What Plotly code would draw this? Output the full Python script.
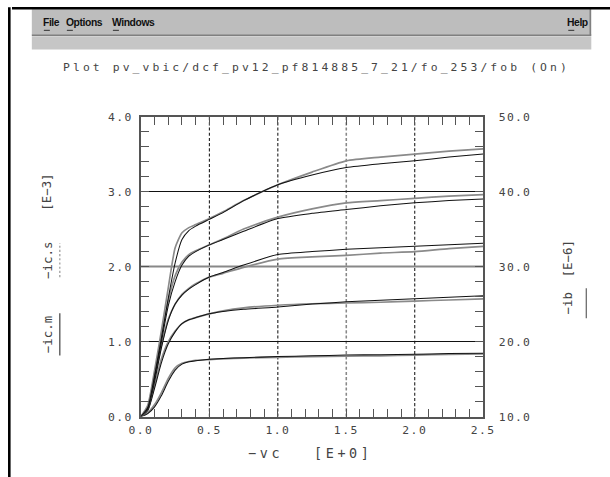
import plotly.graph_objects as go

# ---------------- data ----------------
vc = [0.0, 0.05, 0.1, 0.15, 0.2, 0.25, 0.3, 0.35, 0.4, 0.5, 0.6, 0.75,
      1.0, 1.25, 1.5, 1.75, 2.0, 2.25, 2.5]

ic_m = [
    [0, 0.04, 0.13, 0.28, 0.47, 0.62, 0.70, 0.73, 0.745, 0.765, 0.775, 0.785, 0.80, 0.81, 0.82, 0.825, 0.83, 0.84, 0.845],
    [0, 0.08, 0.38, 0.72, 0.97, 1.13, 1.24, 1.29, 1.32, 1.37, 1.40, 1.43, 1.46, 1.50, 1.53, 1.55, 1.57, 1.59, 1.61],
    [0, 0.10, 0.47, 0.92, 1.28, 1.50, 1.62, 1.70, 1.76, 1.86, 1.92, 2.02, 2.16, 2.20, 2.23, 2.25, 2.27, 2.29, 2.31],
    [0, 0.11, 0.52, 1.00, 1.48, 1.80, 2.02, 2.14, 2.20, 2.29, 2.36, 2.47, 2.64, 2.71, 2.76, 2.81, 2.85, 2.88, 2.90],
    [0, 0.12, 0.55, 1.05, 1.58, 2.05, 2.36, 2.48, 2.54, 2.63, 2.72, 2.88, 3.09, 3.22, 3.32, 3.37, 3.41, 3.46, 3.50],
]
ic_s = [
    [0, 0.05, 0.16, 0.32, 0.51, 0.65, 0.71, 0.735, 0.75, 0.76, 0.77, 0.78, 0.79, 0.80, 0.805, 0.81, 0.82, 0.83, 0.835],
    [0, 0.09, 0.42, 0.77, 1.00, 1.14, 1.24, 1.29, 1.32, 1.37, 1.41, 1.45, 1.485, 1.505, 1.515, 1.525, 1.54, 1.555, 1.57],
    [0, 0.11, 0.50, 0.95, 1.30, 1.50, 1.63, 1.71, 1.77, 1.86, 1.91, 1.99, 2.10, 2.13, 2.15, 2.18, 2.20, 2.24, 2.27],
    [0, 0.13, 0.57, 1.07, 1.55, 1.88, 2.06, 2.16, 2.21, 2.29, 2.37, 2.50, 2.66, 2.77, 2.85, 2.88, 2.91, 2.94, 2.96],
    [0, 0.15, 0.62, 1.15, 1.72, 2.25, 2.45, 2.52, 2.56, 2.64, 2.73, 2.88, 3.09, 3.26, 3.41, 3.46, 3.50, 3.54, 3.57],
]

x_ticks = [0.0, 0.5, 1.0, 1.5, 2.0, 2.5]
x_ticklabels = ["0.0", "0.5", "1.0", "1.5", "2.0", "2.5"]
y_ticks = [0.0, 1.0, 2.0, 3.0, 4.0]
y_ticklabels = ["0.0", "1.0", "2.0", "3.0", "4.0"]
y2_ticks = [10.0, 20.0, 30.0, 40.0, 50.0]
y2_ticklabels = ["10.0", "20.0", "30.0", "40.0", "50.0"]

grid_x_black = [0.5, 1.0, 2.0]
grid_x_gray = [1.5]
grid_y_black = [1.0, 3.0]
grid_y_gray = [2.0]

title_text = "Plot pv_vbic/dcf_pv12_pf814885_7_21/fo_253/fob (On)"
menu_items = [("File", 43), ("Options", 66), ("Windows", 112), ("Help", 567)]

# ---------------- figure ----------------
# layout is specified in target-picture pixels; S compensates the capture scale,
# OFF the default body margin of the page, XC a small horizontal correction
S = 1 / 0.968
OFF = 8
XC = 1.0077
W, H = round(610 * S - OFF), round(477 * S - OFF)
def px(x):
    x = 590 + (x - 590) * XC
    return (x * S - OFF) / W
def py(y):
    return 1 - (y * S - OFF) / H
def k(v):
    return v * S
def sp(text, ls):
    return '<span style="letter-spacing:%.2fpx">%s</span>' % (ls * S, text)

fig = go.Figure()

for m, s in zip(ic_m, ic_s):
    fig.add_trace(go.Scatter(x=vc, y=s, mode="lines", line=dict(color="#8a8a8a", width=k(1.6), shape="spline", smoothing=0.6),
                             hoverinfo="skip", showlegend=False))
    fig.add_trace(go.Scatter(x=vc, y=m, mode="lines", line=dict(color="#111111", width=k(1), shape="spline", smoothing=0.6),
                             hoverinfo="skip", showlegend=False))

fig.add_trace(go.Scatter(x=[None], y=[None], yaxis="y2", mode="lines", hoverinfo="skip", showlegend=False))

tickfont = dict(family="DejaVu Sans Mono", size=k(11), color="#444444")
axcol = "#555555"

fig.update_layout(
    width=W, height=H, autosize=False,
    margin=dict(l=0, r=0, t=0, b=0, pad=0),
    paper_bgcolor="white", plot_bgcolor="white",
    xaxis=dict(domain=[px(141), px(483)], range=[0, 2.5], showgrid=False, zeroline=False,
               showline=True, linecolor=axcol, linewidth=k(1.5), mirror="ticks",
               ticks="inside", ticklen=k(8), tickcolor=axcol, tickwidth=k(1.2),
               tickvals=x_ticks, ticktext=[sp(t, 1.4) for t in x_ticklabels], tickfont=tickfont,
               ticklabelstandoff=round(k(2)),
               minor=dict(dtick=0.1, ticks="inside", ticklen=k(8), tickcolor=axcol, tickwidth=k(1.2), showgrid=False)),
    yaxis=dict(domain=[py(416), py(117)], range=[0, 4.0], showgrid=False, zeroline=False,
               showline=True, linecolor=axcol, linewidth=k(1.5), mirror="ticks",
               ticks="inside", ticklen=k(8), tickcolor=axcol, tickwidth=k(1.2),
               tickvals=y_ticks, ticktext=[sp(t, 1.4) for t in y_ticklabels], tickfont=tickfont,
               ticklabelstandoff=round(k(4)),
               minor=dict(dtick=0.2, ticks="inside", ticklen=k(8), tickcolor=axcol, tickwidth=k(1.2), showgrid=False)),
    yaxis2=dict(overlaying="y", side="right", range=[10, 50], showgrid=False, zeroline=False,
                showline=False, ticks="outside", ticklen=k(12), tickcolor="rgba(0,0,0,0)",
                tickvals=y2_ticks, ticktext=[sp(t, 1.2) for t in y2_ticklabels], tickfont=tickfont),
)

shapes = []
dash = "%.1fpx,%.1fpx" % (k(3), k(2))
for gx in grid_x_black:
    shapes.append(dict(type="line", xref="x", yref="y domain", x0=gx, x1=gx, y0=0, y1=1,
                       line=dict(color="#111111", width=k(1), dash=dash), layer="below"))
for gx in grid_x_gray:
    shapes.append(dict(type="line", xref="x", yref="y domain", x0=gx, x1=gx, y0=0, y1=1,
                       line=dict(color="#888888", width=k(1.5), dash=dash), layer="below"))
for gy in grid_y_black:
    shapes.append(dict(type="line", xref="x domain", yref="y", x0=0, x1=1, y0=gy, y1=gy,
                       line=dict(color="#111111", width=k(1)), layer="below"))
for gy in grid_y_gray:
    shapes.append(dict(type="line", xref="x domain", yref="y", x0=0, x1=1, y0=gy, y1=gy,
                       line=dict(color="#888888", width=k(2)), layer="below"))

# window chrome
shapes += [
    dict(type="rect", xref="paper", yref="paper", x0=px(32), x1=px(591), y0=py(36), y1=py(10),
         fillcolor="#bdbdbd", line=dict(width=0)),
    dict(type="line", xref="paper", yref="paper", x0=px(32), x1=px(591), y0=py(36), y1=py(36),
         line=dict(color="#808080", width=k(1.5))),
    dict(type="line", xref="paper", yref="paper", x0=px(590), x1=px(590), y0=py(36), y1=py(10),
         line=dict(color="#808080", width=k(1.5))),
    dict(type="rect", xref="paper", yref="paper", x0=px(32), x1=px(591), y0=py(50), y1=py(37),
         fillcolor="#c6c6c6", line=dict(width=0)),
    dict(type="line", xref="paper", yref="paper", x0=0, x1=1, y0=py(9), y1=py(9),
         line=dict(color="black", width=k(2.5))),
    dict(type="line", xref="paper", yref="paper", x0=px(9.5), x1=px(9.5), y0=py(8), y1=0,
         line=dict(color="black", width=k(2.5))),
    # legend samples
    dict(type="line", xref="paper", yref="paper", x0=px(60), x1=px(60), y0=py(355), y1=py(313),
         line=dict(color="#222222", width=k(1))),
    dict(type="line", xref="paper", yref="paper", x0=px(60), x1=px(60), y0=py(277), y1=py(243),
         line=dict(color="#888888", width=k(1), dash="%.1fpx,%.1fpx" % (k(2), k(2)))),
    dict(type="line", xref="paper", yref="paper", x0=px(586), x1=px(586), y0=py(318), y1=py(288),
         line=dict(color="#666666", width=k(1.2))),
]

menufont = dict(family="Liberation Sans, Arial", size=k(10), color="#111111")
ann = []
for label, lx in menu_items:
    ann.append(dict(text="<b>" + sp(label, -0.4) + "</b>", x=px(lx), y=py(23), xref="paper", yref="paper",
                    showarrow=False, font=menufont, xanchor="left", yanchor="middle", borderpad=0, borderwidth=0))
    shapes.append(dict(type="line", xref="paper", yref="paper", x0=px(lx + 1), x1=px(lx + 7), y0=py(31), y1=py(31),
                       line=dict(color="#333333", width=k(1))))

txtfont = dict(family="DejaVu Sans Mono", size=k(12), color="#444444")
ann.append(dict(text=sp(title_text, 3.0), x=px(316), y=py(68), xref="paper", yref="paper", showarrow=False,
                font=dict(family="DejaVu Sans Mono", size=k(11), color="#444444"), xanchor="center", yanchor="middle"))
for t, cy in [("−ic.m", 334), ("−ic.s", 260), ("[E−3]", 192)]:
    ann.append(dict(text=t, x=px(47), y=py(cy), xref="paper", yref="paper", showarrow=False, textangle=-90,
                    font=txtfont, xanchor="center", yanchor="middle"))
for t, cy in [("−ib", 303), ("[E−6]", 259)]:
    ann.append(dict(text=t, x=px(567), y=py(cy), xref="paper", yref="paper", showarrow=False, textangle=-90,
                    font=txtfont, xanchor="center", yanchor="middle"))
for t, cx in [("−vc", 265), ("[E+0]", 343)]:
    ann.append(dict(text=sp(t, 3.5), x=px(cx), y=py(453), xref="paper", yref="paper", showarrow=False,
                    font=dict(family="DejaVu Sans Mono", size=k(13), color="#444444"), xanchor="center", yanchor="middle"))

fig.update_layout(shapes=shapes, annotations=ann)
fig.write_html("out.html")
